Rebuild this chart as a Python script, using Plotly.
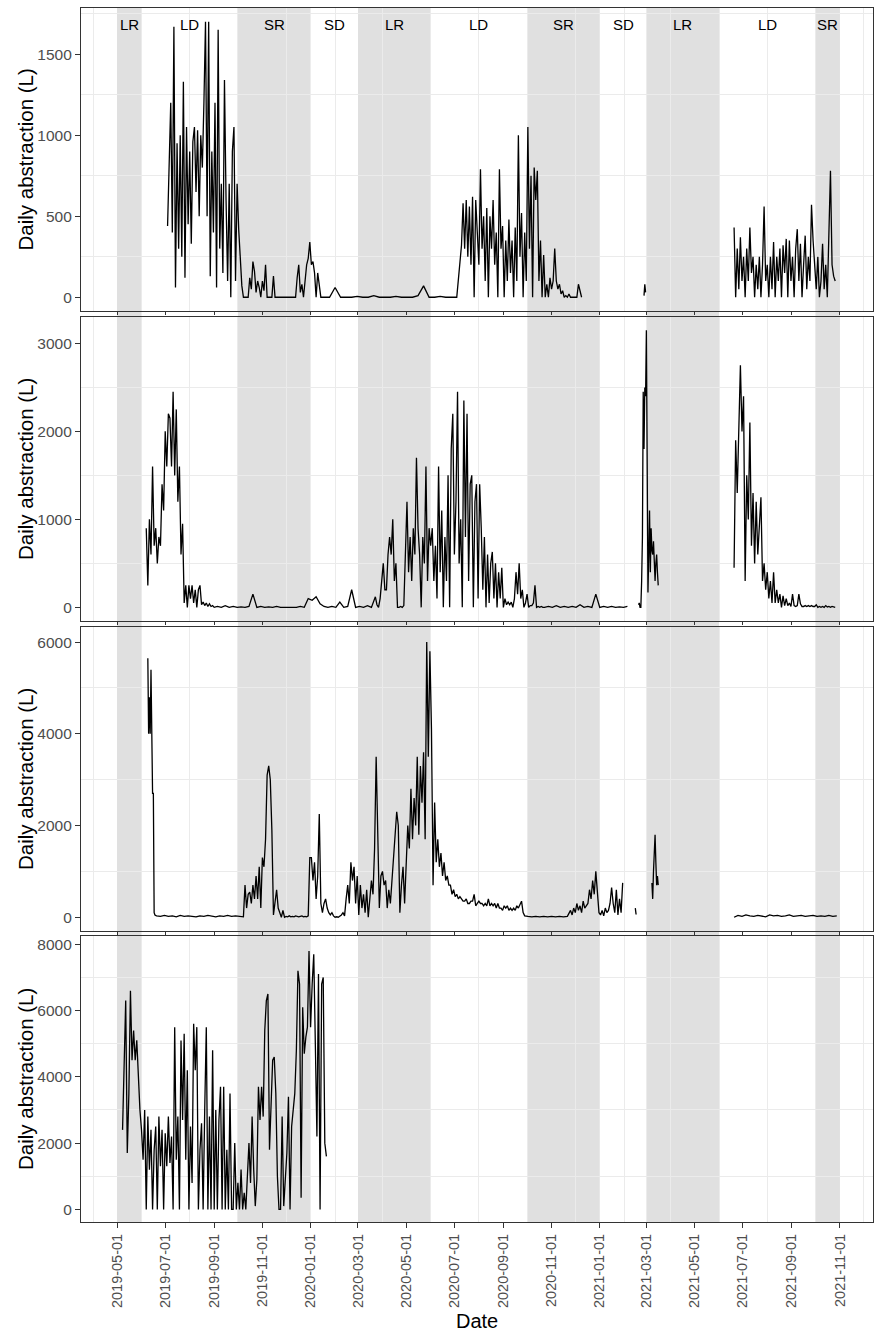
import pandas as pd
import plotly.graph_objects as go

# ---------------- data ----------------
# Seasons
season_labels = ["LR", "LD", "SR", "SD", "LR", "LD", "SR", "SD", "LR", "LD", "SR"]
season_start = ["2019-05-01", "2019-06-01", "2019-10-01", "2020-01-01", "2020-03-01", "2020-06-01",
                "2020-10-01", "2021-01-01", "2021-03-01", "2021-06-01", "2021-10-01"]
season_end = ["2019-06-01", "2019-10-01", "2020-01-01", "2020-03-01", "2020-06-01", "2020-10-01",
              "2021-01-01", "2021-03-01", "2021-06-01", "2021-10-01", "2021-11-01"]

# Panel 1 (segments: start date, step in days, values)
p1_a_start, p1_a_step = "2019-07-04", 2
p1_a = [440, 880, 1200, 400, 1670, 60, 950, 300, 1000, 250, 1330, 120, 1050, 450, 900, 330, 960, 1050,
        650, 1030, 500, 1000, 800, 1200, 1700, 500, 1700, 130, 900, 400, 1200, 60, 1650, 300, 700, 150,
        1340, 600, 100, 700, 0, 900, 1050, 100, 700, 420]
p1_b_start, p1_b_step = "2019-10-06", 2
p1_b = [70, 0, 0, 0, 0, 120, 50, 220, 160, 30, 100, 60, 0, 100, 40, 200, 0, 0, 0, 0, 130, 0, 0,
        0, 0, 0, 0, 0, 0, 0, 0, 0, 0, 0, 0,
        120, 200, 30, 80, 0, 100, 200, 240, 340, 200, 220, 150, 0, 150, 60, 0]
p1_c_start, p1_c_step = "2020-01-18", 7
p1_c = [0, 0, 60, 0, 0, 0, 5, 0, 0, 10, 0, 0, 0, 5, 0, 0, 0, 10, 70, 0, 0, 5, 0, 0, 0]
p1_d_start, p1_d_step = "2020-07-10", 2
p1_d = [320, 580, 300, 600, 250, 560, 200, 620, 0, 600, 400, 200, 790, 300, 500, 100, 550, 0, 500, 300,
        600, 200, 400, 0, 790, 300, 440, 0, 350, 100, 480, 150, 350, 0, 430, 100, 1000, 250, 520, 0,
        400, 100, 1050, 300, 750, 0, 800, 600, 780, 100, 350, 0, 260, 0, 80, 0, 120, 50, 100, 300,
        100, 50, 80, 20, 40, 0, 10, 0, 20, 0, 0, 0, 0, 0, 80, 40, 0]
p1_e_start, p1_e_step = "2021-02-26", 1
p1_e = [10, 80, 30]
p1_f_start, p1_f_step = "2021-06-20", 2
p1_f = [430, 0, 300, 50, 370, 100, 250, 0, 300, 100, 430, 150, 250, 0, 200, 50, 250, 0, 200, 560,
        100, 200, 0, 250, 50, 340, 0, 250, 100, 300, 0, 320, 150, 360, 0, 350, 100, 250, 0, 300,
        420, 100, 330, 0, 200, 380, 50, 250, 100, 570, 350, 200, 50, 250, 0, 100, 330, 50, 200, 0,
        500, 780, 200, 130, 100]

# Panel 2
p2_a_start, p2_a_step = "2019-06-07", 2
p2_a = [900, 250, 1000, 600, 1600, 700, 900, 500, 800, 700, 1400, 1100, 2000, 1600, 2200, 2150, 1600,
        2450, 1500, 2250, 1200, 1600, 600, 950, 50, 250, 0, 250, 100, 250, 50, 200, 0, 200, 250, 30,
        60, 20, 50, 10, 40, 10, 20, 0]
p2_b_start, p2_b_step = "2019-09-05", 5
p2_b = [10, 0, 20, 0, 10, 0, 5, 0, 10, 150, 0, 10, 0, 5, 0, 10, 0, 0, 5, 0, 0, 10, 0, 100, 80, 120,
        40, 10, 0, 10, 0, 60, 0, 10, 200, 0, 10, 0, 20, 0, 120]
p2_c_start, p2_c_step = "2020-03-25", 2
p2_c = [30, 0, 100, 300, 500, 200, 200, 600, 800, 600, 1000, 300, 500, 0, 0, 10, 0, 20, 600, 1200,
        400, 800, 300, 900, 600, 1700, 900, 600, 0, 800, 500, 1600, 300, 900,
        700, 900, 300, 700, 100, 1600, 400, 1100, 0, 800, 300, 1500, 0, 1800, 2200, 600, 1200, 2450,
        500, 1000, 0, 2350, 800, 2200, 300, 1400, 1500, 0, 1200, 1400, 100, 1400, 900, 200, 800, 0,
        600, 50, 500, 630, 100, 500, 0, 400, 100, 450, 0, 100, 30, 60, 30, 60, 0, 100, 400, 150,
        500, 100, 200, 0, 50, 150, 0, 20, 20, 50, 250, 0, 10, 0, 10, 0]
p2_d_start, p2_d_step = "2020-10-23", 5
p2_d = [0, 10, 0, 20, 0, 10, 0, 10, 0, 30, 0, 10, 0, 150, 0, 10, 0, 10, 0, 5, 0, 10]
p2_e_start, p2_e_step = "2021-02-19", 1
p2_e = [30, 50, 0, 0, 300, 800, 2450, 1800, 2500, 2400, 3150, 1870, 170, 600, 1100, 400, 900, 650,
        600, 750, 550, 300, 500, 600, 400, 250]
p2_f_start, p2_f_step = "2021-06-20", 2
p2_f = [450, 1900, 1300, 1900, 2750, 2000, 2400, 300, 1500, 1000, 2100, 700, 1300, 500, 1200, 600,
        900, 1250, 300, 500, 200, 400, 100, 300, 50, 400, 50, 200, 50, 150, 0, 130, 20, 100, 20, 50,
        10, 150, 20, 10, 20, 150, 40, 10, 10, 20, 10, 20, 10, 20, 10, 10, 30, 0, 10, 0, 10, 0, 20, 5,
        10, 0, 10, 5, 0]

# Panel 3
p3_a_start, p3_a_step = "2019-06-09", 1
p3_a = [5650, 4000, 4800, 4000, 5400, 4000, 2700, 2700, 100, 50]
p3_b_start, p3_b_step = "2019-06-20", 5
p3_b = [30, 20, 40, 20, 30, 10, 40, 20, 30, 20, 10, 30, 20, 40, 20, 10, 30, 20, 40, 20, 30, 20, 10]
p3_c_start, p3_c_step = "2019-10-10", 2
p3_c = [700, 200, 500, 550, 300, 700, 400, 900, 400, 1100, 200, 1300, 1100, 1700, 3100, 3300, 3000,
        1900, 50, 300, 600, 200, 100, 0, 150, 0, 20, 10, 30, 10, 20, 10, 30, 20, 10, 20, 30, 10, 20,
        10, 30, 1300]
p3_d_start, p3_d_step = "2020-01-02", 2
p3_d = [1300, 800, 1200, 400, 900, 2250, 300, 100, 300, 400, 200, 100, 50, 100, 30, 0, 10, 0, 20, 50,
        100, 30, 400, 700, 300, 1200, 800, 1100, 300, 900, 50, 700, 200, 500, 100, 600, 0, 400, 800,
        500, 1500, 3500, 1500, 200, 900, 1000, 700, 800, 200, 600, 300, 800, 1500, 1900, 2300, 2000,
        100, 700, 1100, 300, 1200, 2000, 1500, 2800, 1700, 2600, 2000, 3500, 1800, 3300, 2500, 3600,
        1700, 6000, 3500, 5800, 4100, 700, 2500, 1200, 1700, 1100, 1400, 900, 1200, 800, 900, 700,
        700, 500, 600, 450, 500, 400, 450, 400, 350, 350, 400, 300, 300, 350, 350, 500, 250, 300,
        350, 300, 300, 250, 300, 250, 400, 250, 300, 250, 300, 200, 300, 200, 200, 150, 250, 200,
        250, 150, 200, 150, 200, 150, 250, 200, 300, 350, 100, 30]
p3_e_start, p3_e_step = "2020-10-02", 5
p3_e = [20, 10, 20, 10, 20, 10, 20, 10, 20, 10, 20]
p3_f_start, p3_f_step = "2020-11-23", 2
p3_f = [100, 150, 50, 200, 100, 300, 150, 250, 100, 350, 200, 250, 300, 600, 400, 800, 500, 1000,
        600, 100, 50, 150, 30, 200, 100, 150, 300, 650, 300, 100, 600, 50, 400, 100, 750]
p3_g_start, p3_g_step = "2021-02-15", 1
p3_g = [200, 60]
p3_h_start, p3_h_step = "2021-03-08", 1
p3_h = [750, 400, 1000, 1500, 1800, 1200, 700, 900, 700]
p3_i_start, p3_i_step = "2021-06-20", 5
p3_i = [0, 40, 20, 50, 30, 20, 40, 30, 10, 50, 30, 40, 20, 30, 50, 20, 30, 40, 20, 30, 40, 20, 30,
        20, 40, 20, 30]

# Panel 4
p4_a_start, p4_a_step = "2019-05-08", 2
p4_a = [2400, 4200, 6300, 1700, 3500, 6600, 4500, 5400, 4500, 5100, 4000, 3000, 2400, 1500, 3000, 0,
        2800, 1200, 2400, 0, 1800, 2500, 0, 2800, 1300, 2400, 0, 2300, 1300, 2800, 1400, 2200, 0,
        5500, 1500, 2800, 0, 5100, 2700, 5300, 1500, 4200, 0, 2500, 800, 5600, 4200, 5500, 0, 1800,
        2600, 0, 3000, 5500, 0, 2800, 0, 4800, 0, 3000, 0, 2700, 3700, 0, 3700, 0, 1800, 0, 3500, 0,
        0, 2000, 0, 800]
p4_b_start, p4_b_step = "2019-10-03", 2
p4_b = [0, 1200, 0, 500, 0, 1200, 2000, 800, 2800, 1200, 100, 900, 3700, 2700, 3700, 2800, 5400,
        6300, 6500, 1800, 3000, 4500, 4600, 3500, 1000, 0, 0, 2800, 100, 1000, 1700, 3400, 0, 2500,
        3000, 3500, 4800, 7200, 6800, 350, 6100, 4700, 5200, 5500, 7800, 5500, 6800, 7700, 5000,
        2200, 7100, 0, 6800, 7000, 2000, 1600]

# runs of connected segments (gaps between runs)
panel_runs = [
    [[(p1_a_start, p1_a_step, p1_a), (p1_b_start, p1_b_step, p1_b), (p1_c_start, p1_c_step, p1_c),
      (p1_d_start, p1_d_step, p1_d)],
     [(p1_e_start, p1_e_step, p1_e)],
     [(p1_f_start, p1_f_step, p1_f)]],
    [[(p2_a_start, p2_a_step, p2_a), (p2_b_start, p2_b_step, p2_b), (p2_c_start, p2_c_step, p2_c),
      (p2_d_start, p2_d_step, p2_d)],
     [(p2_e_start, p2_e_step, p2_e)],
     [(p2_f_start, p2_f_step, p2_f)]],
    [[(p3_a_start, p3_a_step, p3_a), (p3_b_start, p3_b_step, p3_b), (p3_c_start, p3_c_step, p3_c),
      (p3_d_start, p3_d_step, p3_d), (p3_e_start, p3_e_step, p3_e), (p3_f_start, p3_f_step, p3_f)],
     [(p3_g_start, p3_g_step, p3_g)],
     [(p3_h_start, p3_h_step, p3_h)],
     [(p3_i_start, p3_i_step, p3_i)]],
    [[(p4_a_start, p4_a_step, p4_a), (p4_b_start, p4_b_step, p4_b)]],
]

y_ranges = [[-85, 1785], [-155, 3300], [-300, 6330], [-380, 8250]]
y_dticks = [500, 1000, 2000, 2000]

# ---------------- layout geometry ----------------
W, H = 875, 1332
x_dom = [81 / W, 873 / W]
panel_px = [(8, 311), (317, 621), (627, 931), (936, 1222)]
y_doms = [[1 - b / H, 1 - t / H] for t, b in panel_px]
x_range = ["2019-03-16 10:00", "2021-12-12 20:00"]

FONT = "Liberation Sans, Arial, sans-serif"
GRID = "#EBEBEB"
AXC = "#333333"


def build(runs):
    xs, ys = [], []
    for run in runs:
        for start, step, vals in run:
            dates = pd.date_range(start, periods=len(vals), freq=f"{step}D")
            xs.extend(dates.strftime("%Y-%m-%d").tolist())
            ys.extend(vals)
        xs.append(None)
        ys.append(None)
    return xs, ys


fig = go.Figure()
for i, runs in enumerate(panel_runs):
    xs, ys = build(runs)
    fig.add_trace(go.Scatter(x=xs, y=ys, mode="lines", connectgaps=False,
                             line=dict(color="black", width=1.3),
                             xaxis=f"x{i + 1}", yaxis=f"y{i + 1}", hoverinfo="skip",
                             showlegend=False))

layout = dict(width=W, height=H, margin=dict(l=0, r=0, t=0, b=0),
              paper_bgcolor="white", plot_bgcolor="white", showlegend=False,
              font=dict(family=FONT))
for i in range(4):
    last = i == 3
    xa = dict(domain=x_dom, range=x_range, type="date", anchor=f"y{i + 1}",
              showgrid=False, zeroline=False,
              tick0="2019-05-01", dtick="M2", tickformat="%Y-%m-%d",
              ticks="outside", ticklen=5 if last else 3, tickcolor=AXC, tickwidth=1,
              showticklabels=last, tickangle=-90,
              tickfont=dict(family=FONT, size=14.5, color="#4D4D4D"),
              showline=True, mirror=True, linecolor=AXC, linewidth=1.2,
              minor=dict(dtick="M1", tick0="2019-04-01", showgrid=True, gridcolor=GRID,
                         gridwidth=1, ticks=""))
    ya = dict(domain=y_doms[i], range=y_ranges[i], anchor=f"x{i + 1}",
              showgrid=False, zeroline=False, tick0=0, dtick=y_dticks[i],
              ticks="outside", ticklen=5, tickcolor=AXC, tickwidth=1,
              tickfont=dict(family=FONT, size=15.5, color="#4D4D4D"),
              showline=True, mirror=True, linecolor=AXC, linewidth=1.2,
              minor=dict(dtick=y_dticks[i] / 2, tick0=0, showgrid=True, gridcolor=GRID,
                         gridwidth=1, ticks=""))
    layout[f"xaxis{i + 1}"] = xa
    layout[f"yaxis{i + 1}"] = ya
fig.update_layout(**layout)

# shaded seasons (LR and SR) spanning all panels
shapes = []
annotations = []
for lab, s, e in zip(season_labels, season_start, season_end):
    if lab in ("LR", "SR"):
        shapes.append(dict(type="rect", xref="x", yref="paper", x0=s, x1=e,
                           y0=y_doms[3][0], y1=y_doms[0][1], fillcolor="#E0E0E0",
                           line=dict(width=0), layer="below"))
    mid = pd.Timestamp(s) + (pd.Timestamp(e) - pd.Timestamp(s)) / 2
    annotations.append(dict(text=lab, x=mid.strftime("%Y-%m-%d %H:%M"), xref="x", y=0.944,
                            yref="y domain", showarrow=False, xanchor="center", yanchor="middle",
                            font=dict(family=FONT, size=15, color="black")))

for i in range(4):
    annotations.append(dict(text="Daily abstraction (L)", textangle=-90, x=25 / W, xref="paper",
                            y=(y_doms[i][0] + y_doms[i][1]) / 2, yref="paper", showarrow=False,
                            xanchor="center", yanchor="middle",
                            font=dict(family=FONT, size=20.5, color="black")))
annotations.append(dict(text="Date", x=(x_dom[0] + x_dom[1]) / 2, xref="paper", y=1 - 1321 / H,
                        yref="paper", showarrow=False, xanchor="center", yanchor="middle",
                        font=dict(family=FONT, size=20, color="black")))
fig.update_layout(shapes=shapes, annotations=annotations)

fig.write_html("out.html")
